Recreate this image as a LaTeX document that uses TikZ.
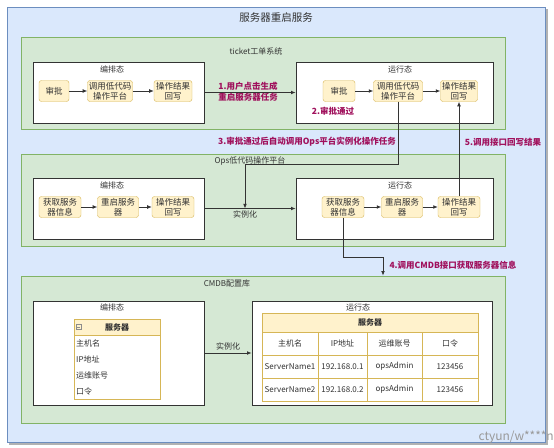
\documentclass[tikz,border=0pt]{standalone}
\usepackage{fontspec}
\setmainfont{Noto Sans CJK SC}
\usetikzlibrary{arrows.meta,positioning}
\definecolor{Ink}{HTML}{333333}
\definecolor{Outer}{HTML}{DAE8FC}
\definecolor{OuterLine}{HTML}{6C8EBF}
\definecolor{Sys}{HTML}{D5E8D4}
\definecolor{SysLine}{HTML}{82B366}
\definecolor{Task}{HTML}{FFF2CC}
\definecolor{TaskLine}{HTML}{D6B656}
\definecolor{Note}{HTML}{A0105C}
\tikzset{
 every node/.style={font=\fontsize{8}{10}\selectfont,text=Ink},
 arr/.style={-{Latex[length=1.6mm,width=1.3mm]},line width=.8pt,draw=Ink},
 sys/.style={draw=SysLine,fill=Sys,line width=.6pt,inner sep=0},
 pane/.style={draw=Ink,fill=white,line width=.8pt,inner sep=0},
 task/.style={draw=TaskLine,fill=Task,rounded corners=2.5pt,minimum height=21pt,inner sep=1pt,align=center,font=\fontsize{8.5}{10}\selectfont},
 note/.style={text=Note,font=\bfseries\fontsize{8.5}{10}\selectfont,align=center,inner sep=1pt},
 cell/.style={draw=TaskLine,fill=white,minimum height=23pt,inner sep=0},
 head/.style={draw=TaskLine,fill=Task,inner sep=0,font=\bfseries\fontsize{8}{10}\selectfont},
}

\begin{document}
\begin{tikzpicture}[x=1pt,y=-1pt]
 \useasboundingbox (0,0) rectangle (554,447);
 \fill[black!30] (9,9) rectangle (548,445);
 \node[draw=OuterLine,fill=Outer,line width=.8pt,minimum width=538pt,minimum height=435pt,inner sep=0] (outer) at (276,224.5) {};
 \node[font=\fontsize{10.5}{12}\selectfont] (title) at (276,18) {服务器重启服务};

 \node[sys,minimum width=484pt,minimum height=92pt] (ticket) at (263,83) {};
 \node (ticketLbl) at (256,51) {ticket工单系统};
 \node[pane,minimum width=171pt,minimum height=61pt] (tkPlan) at (118.5,92.5) {};
 \node (tkPlanLbl) at (112,69) {编排态};
 \node[pane,minimum width=197pt,minimum height=61pt] (tkRun) at (394.5,92.5) {};
 \node (tkRunLbl) at (400,69) {运行态};
 \node[task,minimum width=30pt] (tkPlanA) at (54,91) {审批};
 \node[task,minimum width=45pt] (tkPlanB) at (110,91) {调用低代码\\操作平台};
 \node[task,minimum width=38pt] (tkPlanC) at (173,91) {操作结果\\回写};
 \node[task,minimum width=32pt] (tkRunA) at (339,91) {审批};
 \node[task,minimum width=49pt] (tkRunB) at (398,91) {调用低代码\\操作平台};
 \node[task,minimum width=37pt] (tkRunC) at (459,91) {操作结果\\回写};
 \draw[arr] (tkPlanA) -- (tkPlanB);
 \draw[arr] (tkPlanB) -- (tkPlanC);
 \draw[arr] (tkRunA) -- (tkRunB);
 \draw[arr] (tkRunB) -- (tkRunC);
 \draw[arr] (tkPlan.east) -- (tkRun.west);
 \node[note] (step1) at (248,92) {1.用户点击生成\\[1pt]重启服务器任务};
 \node[note] (step2) at (333,111) {2.审批通过};

 \node[sys,minimum width=484pt,minimum height=92pt] (ops) at (263,200) {};
 \node (opsLbl) at (250,161) {Ops低代码操作平台};
 \node[pane,minimum width=171pt,minimum height=61pt] (opsPlan) at (118.5,208.5) {};
 \node (opsPlanLbl) at (112,185) {编排态};
 \node[pane,minimum width=197pt,minimum height=61pt] (opsRun) at (394.5,208.5) {};
 \node (opsRunLbl) at (400,185) {运行态};
 \node[task,minimum width=42pt] (opsPlanA) at (60,207) {获取服务\\器信息};
 \node[task,minimum width=41pt] (opsPlanB) at (118,207) {重启服务\\器};
 \node[task,minimum width=42pt] (opsPlanC) at (173,207) {操作结果\\回写};
 \node[task,minimum width=42pt] (opsRunA) at (343,207) {获取服务\\器信息};
 \node[task,minimum width=41pt] (opsRunB) at (402,207) {重启服务\\器};
 \node[task,minimum width=42pt] (opsRunC) at (459,207) {操作结果\\回写};
 \draw[arr] (opsPlanA) -- (opsPlanB);
 \draw[arr] (opsPlanB) -- (opsPlanC);
 \draw[arr] (opsRunA) -- (opsRunB);
 \draw[arr] (opsRunB) -- (opsRunC);
 \draw[arr] (opsPlan.east) -- (opsRun.west);
 \coordinate (inst) at (245,208.5);
 \node[below=1pt of inst,inner sep=1pt] (instLbl) {实例化};

 \coordinate (bend3) at (245,164);
 \draw[arr] (tkRunB.south) |- (bend3) -- (inst);
 \node[note] (step3) at (307,142) {3.审批通过后自动调用Ops平台实例化操作任务};
 \draw[arr] (opsRunC.north) -- (tkRunC.south);
 \node[note] (step5) at (503,142) {5.调用接口回写结果};

 \node[sys,minimum width=484pt,minimum height=147pt] (cmdb) at (263,349.5) {};
 \node (cmdbLbl) at (227,283) {CMDB配置库};
 \node[pane,minimum width=171pt,minimum height=104pt] (cmPlan) at (118.5,353) {};
 \node (cmPlanLbl) at (112,307) {编排态};
 \node[pane,minimum width=240pt,minimum height=104pt] (cmRun) at (372,353) {};
 \node (cmRunLbl) at (358,307) {运行态};
 \draw[arr] (cmPlan.east) -- node[above=1pt,inner sep=1pt] (instLbl2) {实例化} (cmRun.west);

 \coordinate (bend4) at (383,257);
 \draw[arr] (opsRunA.south) |- (bend4) -- (bend4 |- cmdb.north);
 \node[note] (step4) at (453,265) {4.调用CMDB接口获取服务器信息};

 % server class
 \node[draw=TaskLine,fill=white,minimum width=86pt,minimum height=64pt,inner sep=0] (clsBody) at (117,367) {};
 \node[head,minimum width=86pt,minimum height=16pt] (clsHead) at (117,327) {服务器};
 \draw[black!45,line width=.4pt] (76,324.5) rectangle (81,329.5) (77.2,327) -- (79.8,327);
 \foreach \y/\t in {343/主机名,359/IP地址,375/运维账号,391/口令}
  \node[anchor=west,inner sep=0] at (76,\y) {\t};

 % server table
 \node[head,minimum width=216pt,minimum height=19pt] (tblHead) at (370,322.5) {服务器};
 \foreach \r/\y in {0/343.5,1/366.5,2/389.5}
  \foreach \c/\x/\w in {0/290/56,1/342.5/49,2/394.5/55,3/450/56}
   \node[cell,minimum width=\w pt] (c\r\c) at (\x,\y) {};
 \node at (c00) {主机名};
 \node at (c01) {IP地址};
 \node at (c02) {运维账号};
 \node at (c03) {口令};
 \foreach \r/\n/\ip in {1/1/192.168.0.1,2/2/192.168.0.2}{
  \node at (c\r0) {ServerName\n};
  \node at (c\r1) {\ip};
  \node at (c\r2) {opsAdmin};
  \node at (c\r3) {123456};
 }

 \node[text=black!40,font=\fontsize{12}{12}\selectfont,anchor=east,inner sep=0] (mark) at (554,437) {ctyun/w****n};
\end{tikzpicture}
\end{document}
